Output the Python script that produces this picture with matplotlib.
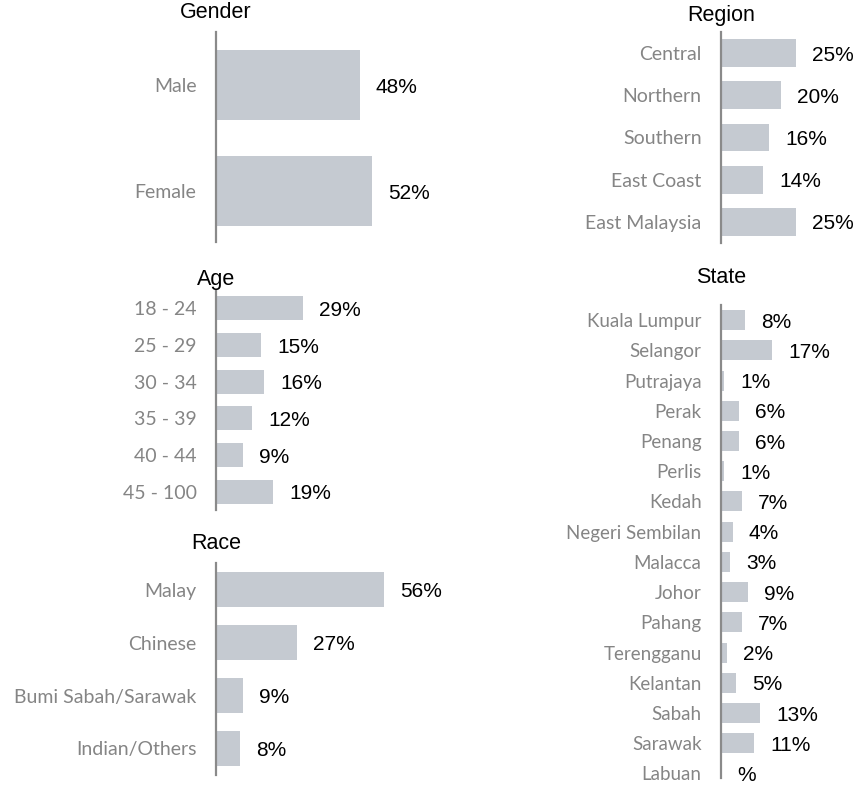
import matplotlib.pyplot as plt

# ## Data
gender_labels = ['Male', 'Female']
gender_values = [48, 52]

age_labels = ['18 - 24', '25 - 29', '30 - 34', '35 - 39', '40 - 44', '45 - 100']
age_values = [29, 15, 16, 12, 9, 19]

race_labels = ['Malay', 'Chinese', 'Bumi Sabah/Sarawak', 'Indian/Others']
race_values = [56, 27, 9, 8]

region_labels = ['Central', 'Northern', 'Southern', 'East Coast', 'East Malaysia']
region_values = [25, 20, 16, 14, 25]

state_labels = ['Kuala Lumpur', 'Selangor', 'Putrajaya', 'Perak', 'Penang', 'Perlis',
                'Kedah', 'Negeri Sembilan', 'Malacca', 'Johor', 'Pahang', 'Terengganu',
                'Kelantan', 'Sabah', 'Sarawak', 'Labuan']
state_values = [8, 17, 1, 6, 6, 1, 7, 4, 3, 9, 7, 2, 5, 13, 11, None]  # Labuan has no value

# ## Styling
W, H = 860, 786
BAR = '#c5cad1'
SPINE = '#8a8a8a'
CAT = '#858585'
CAT_FONT = 'Lato'
NUM_FONT = 'Liberation Sans'
PX_PER_PCT = 3.0

fig = plt.figure(figsize=(W / 100, H / 100), dpi=100)


def panel(title, labels, values, left, top, height, width, ybottom, title_gap, cat_size):
    # axes placed by pixel box; x scale is fixed so bars are comparable across panels
    ax = fig.add_axes([left / W, 1 - (top + height) / H, width / W, height / H])
    vals = [0 if v is None else v for v in values]
    y = range(len(labels))
    ax.barh(y, vals, height=0.66, color=BAR)
    ax.set_xlim(0, width / PX_PER_PCT)
    ax.set_ylim(ybottom, -0.5)
    ax.set_yticks(list(y))
    ax.set_yticklabels(labels, fontsize=cat_size, color=CAT, family=CAT_FONT)
    ax.tick_params(axis='y', length=0, pad=14)
    ax.set_xticks([])
    for s in ['top', 'right', 'bottom']:
        ax.spines[s].set_visible(False)
    ax.spines['left'].set_color(SPINE)
    ax.spines['left'].set_linewidth(1.6)
    for i, v in enumerate(values):
        txt = '%' if v is None else f'{v}%'
        ax.annotate(txt, xy=(vals[i], i), xytext=(11.5, -1.5), textcoords='offset points',
                    ha='left', va='center', fontsize=15, family=NUM_FONT, color='black')
    ax.annotate(title, xy=(0, 1), xycoords='axes fraction', xytext=(0, title_gap),
                textcoords='offset points', ha='center', va='center',
                fontsize=15.5, family=NUM_FONT, color='black')
    ax.patch.set_alpha(0)
    return ax


panel('Gender', gender_labels, gender_values, 216, 32, 210, 200, 1.48, 14, 14)
panel('Age', age_labels, age_values, 216, 290, 220, 200, 5.5, 7.5, 14)
panel('Race', race_labels, race_values, 216, 563, 212, 200, 3.5, 14, 14)
panel('Region', region_labels, region_values, 721, 32, 211, 120, 4.5, 12, 14)
panel('State', state_labels, state_values, 721, 305, 473, 120, 15.15, 19.5, 13.5)

plt.savefig('out.png', dpi=100)
